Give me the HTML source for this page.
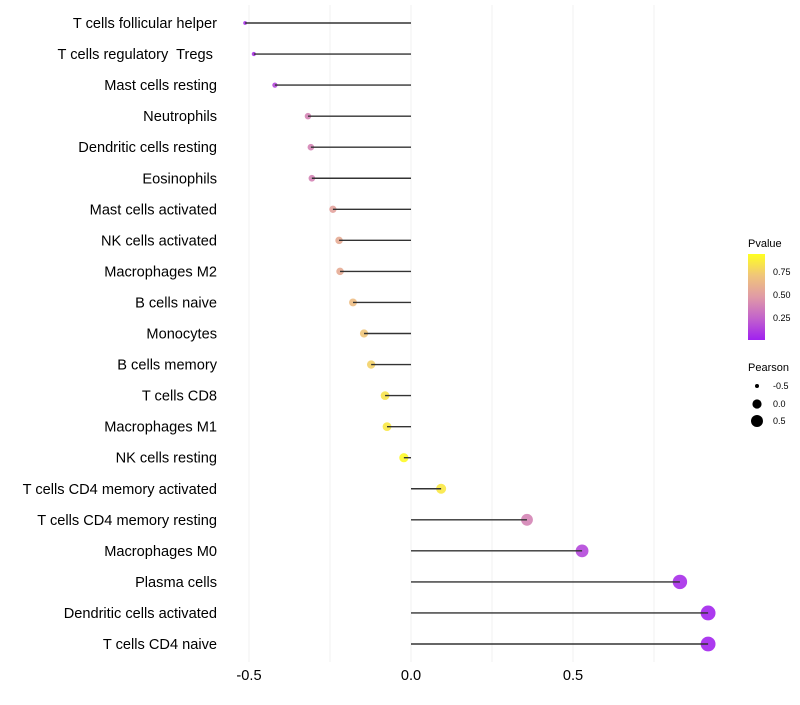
<!DOCTYPE html>
<html><head><meta charset="utf-8"><style>
body{margin:0;background:#fff;font-family:"Liberation Sans",sans-serif}
text{white-space:pre}
</style></head><body>
<svg id="chart" width="800" height="700" xmlns="http://www.w3.org/2000/svg">
<defs><linearGradient id="pg" x1="0" y1="1" x2="0" y2="0">
<stop offset="0" stop-color="#a020f0"/><stop offset="0.25" stop-color="#c262cc"/><stop offset="0.5" stop-color="#e09aa6"/><stop offset="0.75" stop-color="#f0c57a"/><stop offset="1" stop-color="#ffff20"/></linearGradient></defs>
<g id="grid"></g><g id="points"></g><g id="marks"></g><g id="labels"></g>
<g font-size="10" fill="#000">
<text x="748" y="247" font-size="11">Pvalue</text>
<rect x="748" y="254" width="17" height="86" fill="url(#pg)"/>
<text x="773" y="275" font-size="9">0.75</text>
<text x="773" y="298" font-size="9">0.50</text>
<text x="773" y="321" font-size="9">0.25</text>
<text x="748" y="371" font-size="11">Pearson</text>
<circle cx="757" cy="386" r="2" fill="#000"/>
<text x="773" y="389" font-size="9">-0.5</text>
<circle cx="757" cy="404" r="4.6" fill="#000"/>
<text x="773" y="407" font-size="9">0.0</text>
<circle cx="757" cy="421" r="6" fill="#000"/>
<text x="773" y="424" font-size="9">0.5</text>
</g>
</svg>
<script>
const categories=["T cells follicular helper","T cells regulatory  Tregs ","Mast cells resting","Neutrophils","Dendritic cells resting","Eosinophils","Mast cells activated","NK cells activated","Macrophages M2","B cells naive","Monocytes","B cells memory","T cells CD8","Macrophages M1","NK cells resting","T cells CD4 memory activated","T cells CD4 memory resting","Macrophages M0","Plasma cells","Dendritic cells activated","T cells CD4 naive"];
const pearson=[-0.512,-0.485,-0.42,-0.318,-0.309,-0.306,-0.241,-0.222,-0.219,-0.179,-0.145,-0.123,-0.080,-0.074,-0.022,0.093,0.358,0.528,0.83,0.917,0.917];
const pvalue=[0.05,0.08,0.15,0.4,0.4,0.4,0.55,0.6,0.6,0.7,0.75,0.8,0.88,0.9,0.98,0.9,0.4,0.15,0.05,0.02,0.02];
const xTicks=[-0.5,0,0.5];
const xTickLabels=["-0.5","0.0","0.5"];
const NS="http://www.w3.org/2000/svg";
const xs=v=>411+v*324;
const ys=i=>23+i*31.05;
const rs=v=>Math.sqrt(Math.max(1,4+36*(v+0.5)));
const stops=[[0,[160,32,240]],[0.25,[194,98,204]],[0.5,[224,154,166]],[0.75,[240,197,122]],[1,[255,255,32]]];
function col(p){for(let k=1;k<stops.length;k++){if(p<=stops[k][0]){const a=stops[k-1],b=stops[k],t=(p-a[0])/(b[0]-a[0]);return 'rgb('+a[1].map((c,j)=>Math.round(c+(b[1][j]-c)*t)).join(',')+')';}}return 'rgb(255,255,32)';}
function mk(t,at,parent){const e=document.createElementNS(NS,t);for(const k in at)e.setAttribute(k,at[k]);parent.appendChild(e);return e;}
const grid=document.getElementById('grid'),marks=document.getElementById('marks'),points=document.getElementById('points'),labels=document.getElementById('labels');
[-0.5,-0.25,0,0.25,0.5,0.75].forEach(v=>{const l=mk('line',{x1:xs(v),x2:xs(v),y1:5,y2:662,stroke:'#f2f2f2','stroke-width':1},grid);

});
xTicks.forEach((v,i)=>{const t=mk('text',{x:xs(v),y:680,'text-anchor':'middle','font-size':14.6,fill:'#000'},labels);t.textContent=xTickLabels[i];

});
categories.forEach((c,i)=>{const y=ys(i);
const t=mk('text',{x:217,y:y+5,'text-anchor':'end','font-size':14.6,fill:'#000'},labels);t.textContent=c;


const p=mk('circle',{cx:xs(pearson[i]),cy:y,r:rs(pearson[i]),fill:col(pvalue[i]),'fill-opacity':0.9},points);


const s=mk('line',{x1:xs(0),x2:xs(pearson[i]),y1:y,y2:y,stroke:'#333','stroke-width':1.4},marks);

});
</script>
</body></html>
